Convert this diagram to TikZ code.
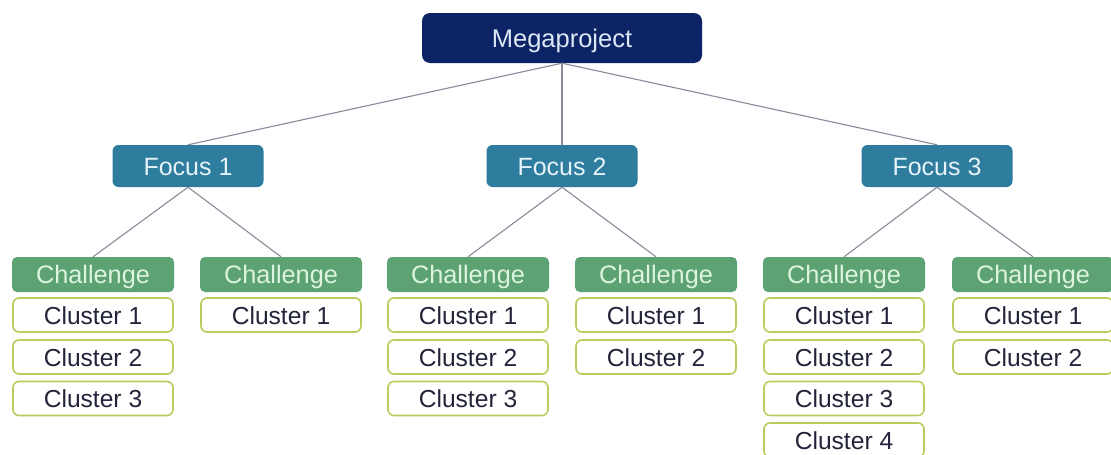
\documentclass[tikz,border=0pt]{standalone}
\usepackage{fontspec}
\setmainfont{Liberation Sans}
\definecolor{navy}{HTML}{0C2465}
\definecolor{megatext}{HTML}{DDE8F5}
\definecolor{focusfill}{HTML}{2E7C9E}
\definecolor{focustext}{HTML}{E6F3F8}
\definecolor{chalfill}{HTML}{5DA273}
\definecolor{chaltext}{HTML}{DDF4DF}
\definecolor{clborder}{HTML}{B8CB5C}
\definecolor{cltext}{HTML}{22243A}
\definecolor{linkgray}{HTML}{8A8A9A}
\tikzset{
  capcenter/.style={text height=18pt, text depth=0pt},
  megabox/.style={capcenter, fill=navy, text=megatext, rounded corners=8pt, minimum width=280pt, minimum height=50pt, inner sep=0pt, font=\fontsize{25.5}{30}\selectfont},
  focusbox/.style={capcenter, fill=focusfill, text=focustext, rounded corners=6pt, minimum width=151pt, minimum height=42pt, inner sep=0pt, font=\fontsize{25}{30}\selectfont},
  chalbox/.style={capcenter, fill=chalfill, text=chaltext, rounded corners=5pt, minimum width=162pt, minimum height=35pt, inner sep=0pt, font=\fontsize{25.3}{30}\selectfont},
  clbox/.style={capcenter, draw=clborder, line width=1.6pt, fill=white, text=cltext, rounded corners=6pt, minimum width=160pt, minimum height=34pt, inner sep=0pt, font=\fontsize{24.6}{30}\selectfont},
  link/.style={draw=linkgray, line width=1.1pt}
}
\begin{document}
\begin{tikzpicture}[x=1pt,y=-1pt]
\useasboundingbox (0,0) rectangle (1111,455);
\clip (0,0) rectangle (1111,455);
\fill[white] (0,0) rectangle (1111,455);
\node[megabox] (mega) at (562,38) {Megaproject};
\node[focusbox] (f1) at (188,166) {Focus 1};
\node[focusbox] (f2) at (562,166) {Focus 2};
\node[focusbox] (f3) at (937,166) {Focus 3};
\node[chalbox] (c1) at (93,274.5) {Challenge};
\node[chalbox] (c2) at (281,274.5) {Challenge};
\node[chalbox] (c3) at (468,274.5) {Challenge};
\node[chalbox] (c4) at (656,274.5) {Challenge};
\node[chalbox] (c5) at (844,274.5) {Challenge};
\node[chalbox] (c6) at (1033,274.5) {Challenge};
% clusters
\node[clbox] (c1a) at (93,315) {Cluster 1};
\node[clbox] (c1b) at (93,357) {Cluster 2};
\node[clbox] (c1c) at (93,398.5) {Cluster 3};
\node[clbox] (c2a) at (281,315) {Cluster 1};
\node[clbox] (c3a) at (468,315) {Cluster 1};
\node[clbox] (c3b) at (468,357) {Cluster 2};
\node[clbox] (c3c) at (468,398.5) {Cluster 3};
\node[clbox] (c4a) at (656,315) {Cluster 1};
\node[clbox] (c4b) at (656,357) {Cluster 2};
\node[clbox] (c5a) at (844,315) {Cluster 1};
\node[clbox] (c5b) at (844,357) {Cluster 2};
\node[clbox] (c5c) at (844,398.5) {Cluster 3};
\node[clbox] (c5d) at (844,440) {Cluster 4};
\node[clbox] (c6a) at (1033,315) {Cluster 1};
\node[clbox] (c6b) at (1033,357) {Cluster 2};
% connectors
\path[link] (mega.south) -- (f1.north);
\path[link] (mega.south) -- (f2.north);
\path[link] (mega.south) -- (f3.north);
\path[link] (f1.south) -- (c1.north);
\path[link] (f1.south) -- (c2.north);
\path[link] (f2.south) -- (c3.north);
\path[link] (f2.south) -- (c4.north);
\path[link] (f3.south) -- (c5.north);
\path[link] (f3.south) -- (c6.north);
\end{tikzpicture}
\end{document}
